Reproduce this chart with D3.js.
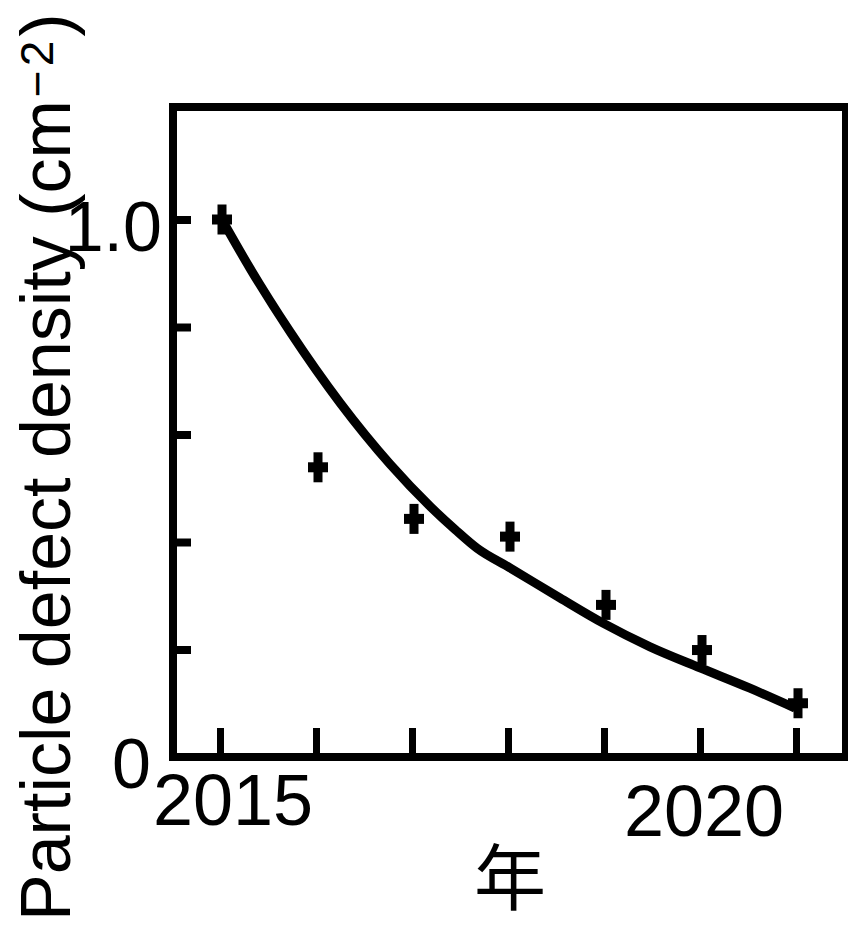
<!DOCTYPE html>
<html>
<head>
<meta charset="utf-8">
<script src="https://cdn.jsdelivr.net/npm/d3@7"></script>
<style>
  html, body { margin: 0; padding: 0; background: #fff; }
  svg { display: block; }
  text { font-family: "Liberation Sans", Arial, sans-serif; fill: #000; }
</style>
</head>
<body>
<script>
// ---- data ----
const years = [2015, 2016, 2017, 2018, 2019, 2020, 2021];
const densities = [1.0, 0.539, 0.443, 0.410, 0.283, 0.199, 0.100];
const fitYears = [2015.02, 2015.31, 2015.73, 2016.25, 2016.77, 2017.19, 2017.45, 2017.68, 2018.02, 2018.54, 2018.99, 2019.48, 2020.0, 2020.52, 2020.99];
const fitValues = [1.0, 0.910, 0.791, 0.659, 0.545, 0.466, 0.423, 0.388, 0.352, 0.296, 0.249, 0.205, 0.166, 0.128, 0.091];
const xTickYears = [2015, 2016, 2017, 2018, 2019, 2020, 2021];
const xTickLabels = ["2015", "", "", "", "", "2020", ""];
const yTickValues = [0, 0.2, 0.4, 0.6, 0.8, 1.0];
const yTickLabels = ["0", "", "", "", "", "1.0"];
const xTitle = "年";
const yTitleMain = "Particle defect density (cm";
const yTitleSup = "−2";
const yTitleEnd = ")";

// ---- layout ----
const W = 848, H = 925;
const frame = { left: 173, top: 107, right: 846, bottom: 757 };
const x = d3.scaleLinear().domain([2015, 2021]).range([220, 796]);
const y = d3.scaleLinear().domain([0, 1]).range([757, 219.5]);

const svg = d3.select("body").append("svg").attr("width", W).attr("height", H);

// frame
svg.append("rect")
  .attr("x", frame.left).attr("y", frame.top)
  .attr("width", frame.right - frame.left).attr("height", frame.bottom - frame.top)
  .attr("fill", "none").attr("stroke", "#000").attr("stroke-width", 8);

// x ticks (inward)
const xAxis = d3.axisTop(x).tickValues(xTickYears).tickSize(29).tickFormat("");
const gx = svg.append("g").attr("transform", `translate(0,${frame.bottom})`).call(xAxis);
gx.select(".domain").remove();
gx.selectAll(".tick line").attr("stroke", "#000").attr("stroke-width", 7);

// y ticks (inward)
const yAxis = d3.axisRight(y).tickValues(yTickValues.filter(v => v > 0)).tickSize(18).tickFormat("");
const gy = svg.append("g").attr("transform", `translate(${frame.left},0)`).call(yAxis);
gy.select(".domain").remove();
gy.selectAll(".tick line").attr("stroke", "#000").attr("stroke-width", 8);

// x tick labels
const xLabelPos = { "2015": { dx: 13, base: 825 }, "2020": { dx: 4, base: 836 } };
xTickYears.forEach((yr, i) => {
  const lab = xTickLabels[i];
  if (!lab) return;
  const p = xLabelPos[lab] || { dx: 0, base: 830 };
  svg.append("text")
    .attr("x", x(yr) + p.dx).attr("y", p.base)
    .attr("text-anchor", "middle")
    .attr("font-size", 72)
    .text(lab);
});

// y tick labels
const yLabelRight = { "0": 151, "1.0": 162 };
yTickValues.forEach((v, i) => {
  const lab = yTickLabels[i];
  if (!lab) return;
  svg.append("text")
    .attr("x", yLabelRight[lab] || 160).attr("y", y(v) + 31)
    .attr("text-anchor", "end")
    .attr("font-size", 70)
    .text(lab);
});

// x title
svg.append("text")
  .attr("x", 510).attr("y", 872)
  .attr("text-anchor", "middle")
  .attr("dominant-baseline", "central")
  .attr("font-size", 72)
  .style("font-family", "'Noto Sans CJK JP', 'Noto Sans CJK SC', sans-serif")
  .text(xTitle);

// y title
const yt = svg.append("text")
  .attr("transform", "translate(70,921) rotate(-90)")
  .attr("text-anchor", "start")
  .attr("font-size", 70);
yt.append("tspan").text(yTitleMain);
yt.append("tspan").attr("font-size", 46).attr("dx", 3).attr("dy", -17).attr("letter-spacing", 4).text(yTitleSup);
yt.append("tspan").attr("dy", 17).text(yTitleEnd);

// fit curve
const fitData = fitYears.map((yr, i) => [yr, fitValues[i]]);
svg.append("path")
  .datum(fitData)
  .attr("fill", "none")
  .attr("stroke", "#000")
  .attr("stroke-width", 9)
  .attr("stroke-linejoin", "round")
  .attr("d", d3.line().x(d => x(d[0])).y(d => y(d[1])).curve(d3.curveMonotoneX));

// markers (plus signs)
const mk = svg.append("g");
years.forEach((yr, i) => {
  const cx = x(yr) + 2, cy = y(densities[i]);
  mk.append("rect").attr("x", cx - 10).attr("y", cy - 5).attr("width", 20).attr("height", 10).attr("fill", "#000");
  mk.append("rect").attr("x", cx - 4.5).attr("y", cy - 15).attr("width", 9).attr("height", 30).attr("fill", "#000");
});
</script>
</body>
</html>
